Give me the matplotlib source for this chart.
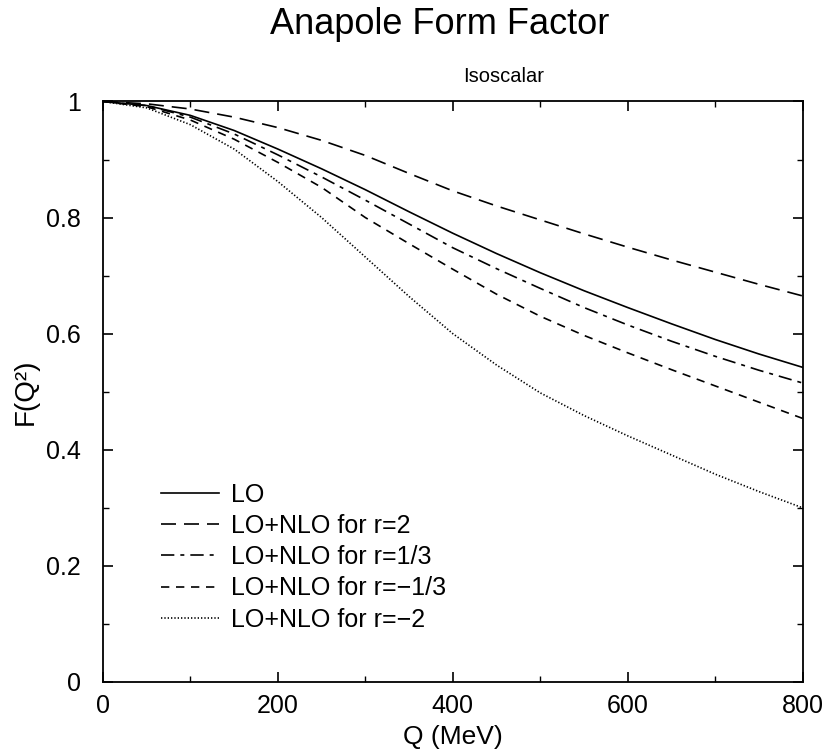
import matplotlib
matplotlib.use("Agg")
import matplotlib.pyplot as plt
from matplotlib.ticker import MultipleLocator, FuncFormatter

plt.rcParams['font.family'] = ['Liberation Sans', 'DejaVu Sans']

# Data
Q = [0, 50, 100, 150, 200, 250, 300, 350, 400, 450, 500, 550, 600, 650, 700, 750, 800]
F_LO = [1.000, 0.993, 0.976, 0.950, 0.918, 0.884, 0.848, 0.810, 0.773, 0.738,
        0.705, 0.674, 0.645, 0.617, 0.590, 0.565, 0.542]
F_r2 = [1.000, 0.996, 0.987, 0.973, 0.955, 0.933, 0.907, 0.876, 0.846, 0.820,
        0.796, 0.772, 0.749, 0.727, 0.706, 0.685, 0.665]
F_r13 = [1.000, 0.993, 0.973, 0.944, 0.908, 0.870, 0.830, 0.789, 0.748, 0.712,
         0.678, 0.645, 0.615, 0.587, 0.561, 0.537, 0.515]
F_rm13 = [1.000, 0.991, 0.968, 0.935, 0.895, 0.852, 0.800, 0.755, 0.711, 0.668,
          0.630, 0.597, 0.567, 0.538, 0.510, 0.482, 0.454]
F_rm2 = [1.000, 0.989, 0.960, 0.918, 0.862, 0.800, 0.732, 0.664, 0.600, 0.546,
         0.498, 0.459, 0.424, 0.391, 0.358, 0.328, 0.300]

labels = ["LO", "LO+NLO for r=2", "LO+NLO for r=1/3", "LO+NLO for r=\u22121/3", "LO+NLO for r=\u22122"]

fig = plt.figure(figsize=(8.27, 7.55), dpi=100)
ax = fig.add_axes([0.1245, 0.0967, 0.8461, 0.7689])

lw = 1.2
ax.plot(Q, F_LO, color='black', lw=lw, linestyle='-', label=labels[0])
ax.plot(Q, F_r2, color='black', lw=lw, linestyle=(0, (9, 4.8)), label=labels[1])
ax.plot(Q, F_r13, color='black', lw=lw, linestyle=(0, (8, 3.6, 2.4, 3.6)), label=labels[2])
ax.plot(Q, F_rm13, color='black', lw=lw, linestyle=(0, (5, 4)), label=labels[3])
ax.plot(Q, F_rm2, color='black', lw=lw, linestyle=(0, (0.8, 1.2)), label=labels[4])

ax.set_xlim(0, 800)
ax.set_ylim(0, 1)
ax.xaxis.set_major_locator(MultipleLocator(200))
ax.xaxis.set_minor_locator(MultipleLocator(100))
ax.yaxis.set_major_locator(MultipleLocator(0.2))
ax.yaxis.set_minor_locator(MultipleLocator(0.1))
ax.yaxis.set_major_formatter(FuncFormatter(lambda v, p: f"{v:g}"))
ax.tick_params(which='both', direction='in', top=True, right=True, labelsize=18)
ax.tick_params(axis='x', which='major', pad=9)
ax.tick_params(axis='y', which='major', pad=16)
ax.tick_params(which='major', length=7, width=1.2)
ax.tick_params(which='minor', length=4, width=1.0)
for s in ax.spines.values():
    s.set_linewidth(1.3)

ax.set_xlabel("Q (MeV)", fontsize=19, labelpad=5)
ax.set_ylabel("F(Q\u00b2)", fontsize=20, labelpad=5)

fig.text(0.532, 0.967, "Anapole Form Factor", ha='center', va='center', fontsize=26)
fig.text(0.609, 0.899, "Isoscalar", ha='center', va='center', fontsize=14.5)

leg = ax.legend(loc='lower left', bbox_to_anchor=(0.068, 0.0695), frameon=False,
                fontsize=18, handlelength=2.32, handletextpad=0.48, labelspacing=0.29,
                borderaxespad=0)

fig.savefig("out.png", dpi=100)
